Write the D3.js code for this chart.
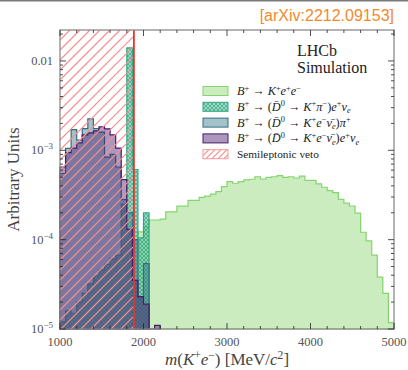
<!DOCTYPE html>
<html><head><meta charset="utf-8">
<script src="https://cdn.jsdelivr.net/npm/d3@7"></script>
<style>html,body{margin:0;padding:0;background:#fff;}svg{display:block;}</style>
</head><body>
<svg id="c" width="408" height="370"></svg>
<script>
// ---- data ----
const massRange = [1000, 5000];
const nBins = 60;
const vetoEdge = 1885;
// B+ -> K+ e+ e-
const kee = [0,0,0,0,0,0,0,0,0,0,0,0,0,1.0e-4,1.22e-4,1.4e-4,1.66e-4,1.66e-4,1.7e-4,2.05e-4,
  2.05e-4,2.37e-4,2.37e-4,2.75e-4,2.75e-4,2.97e-4,3.07e-4,3.24e-4,3.45e-4,3.93e-4,
  4.47e-4,4.28e-4,4.47e-4,4.66e-4,4.74e-4,5.06e-4,4.77e-4,4.98e-4,5.06e-4,5.2e-4,
  4.98e-4,5.06e-4,4.9e-4,5.15e-4,4.6e-4,4.6e-4,4.21e-4,3.86e-4,3.54e-4,3.36e-4,
  2.83e-4,2.56e-4,2.38e-4,1.98e-4,1.21e-4,9.7e-5,6.7e-5,3.8e-5,2.5e-5,1.18e-5];
// B+ -> (D0 -> K+ pi-) e+ nu
const kpienu = [1.2e-5,1.6e-5,1.5e-5,2.0e-5,2.5e-5,3.2e-5,3.9e-5,4.6e-5,5.3e-5,6.1e-5,
  6.7e-5,2.5e-4,1.4e-2,6.1e-4,1.05e-4,2.0e-4];
// B+ -> (D0 -> K+ e- nu) pi+
const kenupi = [5.5e-4,1.05e-3,1.7e-3,1.3e-3,1.75e-3,2.25e-3,1.75e-3,1.6e-3,8.4e-4,9.0e-4,
  6.5e-4,2.8e-4,2.0e-4,1.0e-4,2.3e-5,5.4e-5];
// B+ -> (D0 -> K+ e- nu) e+ nu
const kenuenu = [6.5e-4,9.4e-4,1.06e-3,1.21e-3,1.49e-3,1.57e-3,1.65e-3,1.83e-3,1.74e-3,1.49e-3,
  1.06e-3,4.7e-4,1.3e-4,3.5e-5,2.3e-5,1.9e-5,0,1.1e-5];
const xMajor = [1000,2000,3000,4000,5000];
const xMinorStep = 200;
const yMajor = [1e-5,1e-4,1e-3,1e-2];
const yTickLabels = [["10","−5"],["10","−4"],["10","−3"],["0.01",""]];
const yDomain = [1e-5, 0.0222];
// legend labels: [text, italic, position]
const legendLabels = [
  [["B","i"],["+","r","sup"],[" → ","r"],["K","i"],["+","r","sup"],["e","i"],["+","r","sup"],["e","i"],["−","r","sup"]],
  [["B","i"],["+","r","sup"],[" → (","r"],["D\u0304","i"],["0","r","sup"],[" → ","r"],["K","i"],["+","r","sup"],["π","i"],["−","r","sup"],[")","r"],["e","i"],["+","r","sup"],["ν","i"],["e","i","sub"]],
  [["B","i"],["+","r","sup"],[" → (","r"],["D\u0304","i"],["0","r","sup"],[" → ","r"],["K","i"],["+","r","sup"],["e","i"],["−","r","sup"],["ν\u0304","i"],["e","i","sub"],[")","r"],["π","i"],["+","r","sup"]],
  [["B","i"],["+","r","sup"],[" → (","r"],["D\u0304","i"],["0","r","sup"],[" → ","r"],["K","i"],["+","r","sup"],["e","i"],["−","r","sup"],["ν\u0304","i"],["e","i","sub"],[")","r"],["e","i"],["+","r","sup"],["ν","i"],["e","i","sub"]],
  [["Semileptonic veto","r"]]
];
const xLabel = [["m","i"],["(","r"],["K","i"],["+","r","sup"],["e","i"],["−","r","sup"],[") [MeV/","r"],["c","i"],["2","r","sup"],["]","r"]];
const yLabel = "Arbitrary Units";
const citeText = "[arXiv:2212.09153]";

// ---- drawing ----
const svg = d3.select("#c");
const L = 60, R = 394, T = 30, B = 329;
const serif = "'Liberation Serif', 'DejaVu Serif', serif";
const x = d3.scaleLinear().domain(massRange).range([L, R]);
const y = d3.scaleLog().domain(yDomain).range([B, T]).clamp(true);
const binW = (massRange[1]-massRange[0]) / nBins;
const edges = d3.range(nBins + 1).map(i => massRange[0] + i * binW);

const defs = svg.append("defs");
const tp = defs.append("pattern").attr("id","cross").attr("patternUnits","userSpaceOnUse").attr("width",4).attr("height",4);
tp.append("rect").attr("width",4).attr("height",4).attr("fill","#4fc29a").attr("fill-opacity",0.6);
tp.append("path").attr("d","M0,0L4,4M4,0L0,4").attr("stroke","#1f8c66").attr("stroke-opacity",0.7).attr("stroke-width",0.7);

svg.append("rect").attr("x",0).attr("y",0).attr("width",408).attr("height",1.5).attr("fill","#7a7a7a");

const plot = svg.append("g");
function histPoints(vals) {
  let first = vals.findIndex(v => v > 0);
  let last = vals.length - 1; while (last >= 0 && !(vals[last] > 0)) last--;
  const pts = [];
  for (let i = first; i <= last; i++) pts.push([edges[i], vals[i]]);
  pts.push([edges[last + 1], vals[last]]);
  return pts;
}
const yv = v => v > 0 ? y(v) : y(yDomain[0]);
const area = d3.area().x(d => x(d[0])).y0(y(yDomain[0])).y1(d => yv(d[1])).curve(d3.curveStepAfter);
function drawHist(vals, fill, fop, stroke) {
  const pts = histPoints(vals);
  plot.append("path").attr("d", area(pts) + "Z").attr("fill", fill).attr("fill-opacity", fop)
    .attr("stroke", stroke).attr("stroke-width", 1.2).attr("stroke-linejoin","miter");
}
const colors = {
  kee: {fill:"#82d264", op:0.42, stroke:"#86d46f"},
  kpienu: {fill:"url(#cross)", op:1, stroke:"#2fa882"},
  kenupi: {fill:"#37788c", op:0.45, stroke:"#2f6f82"},
  kenuenu: {fill:"#4b1e6e", op:0.46, stroke:"#4a1c6e"},
  veto: {fill:"#ffffff", op:0, stroke:"#f39a9a"}
};
drawHist(kee, colors.kee.fill, colors.kee.op, colors.kee.stroke);
drawHist(kpienu, colors.kpienu.fill, colors.kpienu.op, colors.kpienu.stroke);
drawHist(kenupi, colors.kenupi.fill, colors.kenupi.op, colors.kenupi.stroke);
drawHist(kenuenu, colors.kenuenu.fill, colors.kenuenu.op, colors.kenuenu.stroke);

// hatch helper: 45-degree "/" lines, analytically clipped to a box
function hatch(g, x0, y0, w, h, step, col, sw) {
  const segs = [];
  for (let s = -h; s < w; s += step) {
    const t0 = Math.max(0, -s), t1 = Math.min(h, w - s);
    if (t1 > t0) segs.push(`M${(x0+s+t0).toFixed(2)},${(y0+h-t0).toFixed(2)}L${(x0+s+t1).toFixed(2)},${(y0+h-t1).toFixed(2)}`);
  }
  g.append("path").attr("d", segs.join("")).attr("fill", "none")
    .attr("stroke", col).attr("stroke-width", sw);
}
hatch(plot, x(massRange[0]), T, x(vetoEdge)-x(massRange[0]), B-T, 10, "#f88e8e", 1.1);
plot.append("line").attr("x1", x(vetoEdge)).attr("x2", x(vetoEdge)).attr("y1", T).attr("y2", B).attr("stroke","#e8332e").attr("stroke-width",1.8);

// frame
svg.append("rect").attr("x",L).attr("y",T).attr("width",R-L).attr("height",B-T).attr("fill","none").attr("stroke","#8c8c8c").attr("stroke-width",1.3);

// ticks
const tk = svg.append("g").attr("stroke","#222").attr("stroke-width",0.8);
const xMinor = d3.range(massRange[0], massRange[1] + 1, xMinorStep).filter(v => !xMajor.includes(v));
xMajor.forEach(v => { tk.append("line").attr("x1",x(v)).attr("x2",x(v)).attr("y1",B).attr("y2",B-6);
  tk.append("line").attr("x1",x(v)).attr("x2",x(v)).attr("y1",T).attr("y2",T+6); });
xMinor.forEach(v => { tk.append("line").attr("x1",x(v)).attr("x2",x(v)).attr("y1",B).attr("y2",B-3);
  tk.append("line").attr("x1",x(v)).attr("x2",x(v)).attr("y1",T).attr("y2",T+3); });
const yMinor = [];
yMajor.forEach(d => { for (let k = 2; k <= 9; k++) { const v = k*d; if (v <= yDomain[1]) yMinor.push(v); } });
yMajor.forEach(v => { tk.append("line").attr("y1",y(v)).attr("y2",y(v)).attr("x1",L).attr("x2",L+6);
  tk.append("line").attr("y1",y(v)).attr("y2",y(v)).attr("x1",R).attr("x2",R-6); });
yMinor.forEach(v => { tk.append("line").attr("y1",y(v)).attr("y2",y(v)).attr("x1",L).attr("x2",L+3);
  tk.append("line").attr("y1",y(v)).attr("y2",y(v)).attr("x1",R).attr("x2",R-3); });

// tick labels
const labCol = "#555";
xMajor.forEach(v => svg.append("text").attr("x", x(v)).attr("y", B+17).attr("text-anchor","middle")
  .attr("font-family", serif).attr("font-size", 12.5).attr("fill", labCol).text(v));
yMajor.forEach((v, i) => {
  const t = svg.append("text").attr("x", L-7).attr("y", y(v)+4).attr("text-anchor","end")
    .attr("font-family", serif).attr("font-size", 12.5).attr("fill", labCol);
  t.append("tspan").text(yTickLabels[i][0]);
  if (yTickLabels[i][1]) t.append("tspan").attr("dy",-5).attr("font-size",9).text(yTickLabels[i][1]);
});

// math text helper
function mathText(sel, segs, fs) {
  let cur = 0;
  segs.forEach(s => {
    const pos = s[2] || "base";
    const target = pos === "sup" ? -0.36*fs : pos === "sub" ? 0.2*fs : 0;
    sel.append("tspan").attr("dy", target - cur)
      .attr("font-style", s[1] === "i" ? "italic" : "normal")
      .attr("font-size", pos === "base" ? fs : fs*0.68).text(s[0]);
    cur = target;
  });
}

// legend
const legKeys = ["kee","kpienu","kenupi","kenuenu","veto"];
const legY0 = 91, legDy = 15.8;
legendLabels.forEach((lab, i) => {
  const cy = legY0 + i*legDy;
  const c = colors[legKeys[i]];
  if (legKeys[i] === "veto") hatch(svg, 203, cy-4.5, 25, 9, 6, "#f88e8e", 1.1);
  svg.append("rect").attr("x",203).attr("y",cy-4.5).attr("width",25).attr("height",9)
    .attr("fill", c.fill).attr("fill-opacity", c.op).attr("stroke", c.stroke).attr("stroke-width",1);
  const fs = legKeys[i] === "veto" ? 11.3 : 12.3;
  const t = svg.append("text").attr("x",237).attr("y",cy+4).attr("font-family",serif).attr("font-size",fs).attr("fill","#222");
  mathText(t, lab, fs);
});

// LHCb Simulation
svg.append("text").attr("x",297).attr("y",56).attr("font-family",serif).attr("font-size",16).attr("fill","#222").text("LHCb");
svg.append("text").attr("x",297).attr("y",73).attr("font-family",serif).attr("font-size",16).attr("fill","#222").text("Simulation");

// axis labels
const xl = svg.append("text").attr("x",(L+R)/2).attr("y",365).attr("text-anchor","middle").attr("font-family",serif).attr("font-size",17).attr("fill","#444");
mathText(xl, xLabel, 17);
svg.append("text").attr("transform",`translate(19,${(T+B)/2}) rotate(-90)`).attr("text-anchor","middle")
  .attr("font-family",serif).attr("font-size",17).attr("fill","#444").text(yLabel);

// citation
svg.append("text").attr("x",394).attr("y",21).attr("text-anchor","end").attr("font-family","'Liberation Sans', Arial, sans-serif")
  .attr("font-size",16).attr("fill","#f28a2c").text(citeText);
</script>
</body></html>
